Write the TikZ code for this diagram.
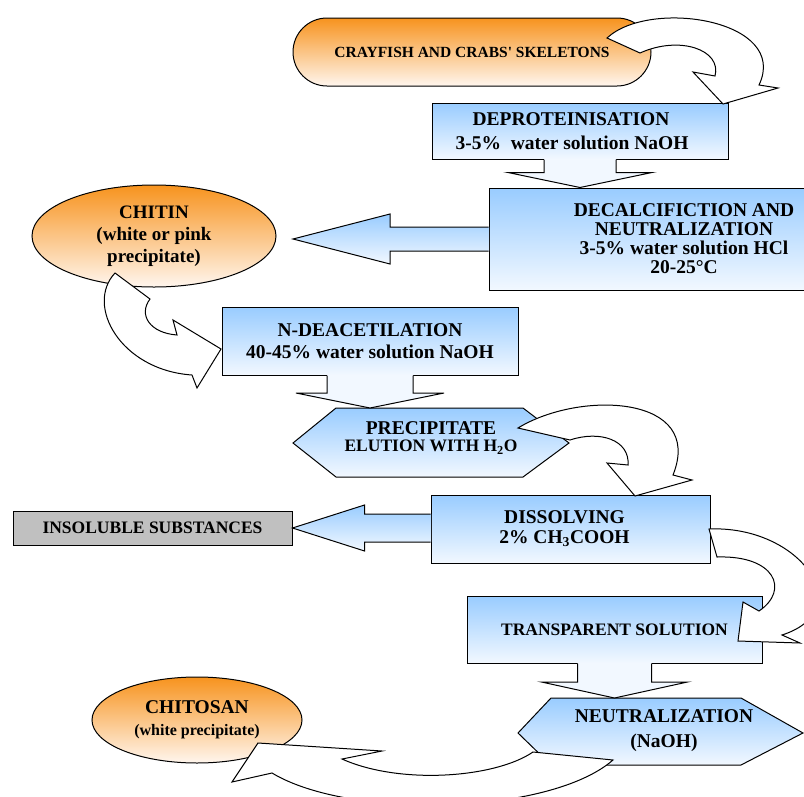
\documentclass[tikz,border=0pt]{standalone}
\usepackage{fontspec}
\setmainfont{Liberation Serif}
\usetikzlibrary{calc,shapes.geometric}

\definecolor{boxtop}{RGB}{153,204,255}
\definecolor{boxbot}{RGB}{242,248,255}
\definecolor{orgtop}{RGB}{247,147,30}
\definecolor{orgbot}{RGB}{255,246,238}
\definecolor{greybox}{RGB}{192,192,192}

% fleche droite vers le bas : depart, pointe, demi-tige, demi-tete, longueur tete
\newcommand{\blockdown}[5]{%
	\path[fill=boxbot] let \p1=(#1), \p2=(#2) in
		(\x2-#3,\y1+0.7pt) -- (\x2-#3,\y2+#5) -- (\x2-#4,\y2+#5) -- (\x2,\y2)
		-- (\x2+#4,\y2+#5) -- (\x2+#3,\y2+#5) -- (\x2+#3,\y1+0.7pt) -- cycle;
	\draw[line width=1pt] let \p1=(#1), \p2=(#2) in
		(\x2-#3,\y1) -- (\x2-#3,\y2+#5) -- (\x2-#4,\y2+#5) -- (\x2,\y2)
		-- (\x2+#4,\y2+#5) -- (\x2+#3,\y2+#5) -- (\x2+#3,\y1);
}
% fleche droite vers la gauche
\newcommand{\blockleft}[5]{%
	\path[top color=boxtop, bottom color=boxbot] let \p1=(#1), \p2=(#2) in
		(\x1+0.7pt,\y2+#3) -- (\x2+#5,\y2+#3) -- (\x2+#5,\y2+#4) -- (\x2,\y2)
		-- (\x2+#5,\y2-#4) -- (\x2+#5,\y2-#3) -- (\x1+0.7pt,\y2-#3) -- cycle;
	\draw[line width=1pt] let \p1=(#1), \p2=(#2) in
		(\x1,\y2+#3) -- (\x2+#5,\y2+#3) -- (\x2+#5,\y2+#4) -- (\x2,\y2)
		-- (\x2+#5,\y2-#4) -- (\x2+#5,\y2-#3) -- (\x1,\y2-#3);
}

\begin{document}
\begin{tikzpicture}[
		x=1pt, y=-1pt,
		every node/.style={
				font=\bfseries\fontsize{19.5}{22}\selectfont,
				align=center,
				inner sep=0pt,
				line width=1pt
			},
		bluebox/.style={draw, rectangle, top color=boxtop, bottom color=boxbot},
		orangebox/.style={draw, top color=orgtop, bottom color=orgbot},
		hexbox/.style={draw, line width=1pt, top color=boxtop, bottom color=boxbot},
		curved/.style={draw, fill=white, line width=1pt}
	]
	\useasboundingbox (0,0) rectangle (804,796);
	\clip (0,0) rectangle (804,796);

	\node[orangebox, rounded corners=34pt, minimum width=358pt, minimum height=68pt,
		font=\bfseries\fontsize{15.5}{18}\selectfont] (crab) at (472,52)
	{CRAYFISH AND CRABS\textquotesingle{} SKELETONS};
	\node[bluebox, minimum width=296pt, minimum height=56pt] (depro) at (580,131)
	{DEPROTEINISATION\hspace*{18pt}\\[2pt]3-5\%\ \ water solution NaOH\hspace*{16pt}};
	\draw[curved] (607,38) .. controls (650,-2) and (790,20) .. (759,85) -- (778,88) -- (723,104)
	-- (693,72) -- (715,76) .. controls (722,50) and (680,35) .. (640,53) -- cycle;

	\node[bluebox, minimum width=390pt, minimum height=102pt,
		font=\bfseries\fontsize{19.5}{19}\selectfont] (decalc) at (684,239)
	{DECALCIFICTION AND\\NEUTRALIZATION\\3-5\% water solution HCl\\20-25°C};
	\blockdown{depro.south}{depro.south |- decalc.north}{36pt}{72pt}{15pt}

	\node[orangebox, ellipse, minimum width=244pt, minimum height=102pt,
		font=\bfseries\fontsize{19}{22}\selectfont] (chitin) at (154,236)
	{CHITIN\\(white or pink\\precipitate)};
	\coordinate (chitin tip) at (293,239);
	\blockleft{decalc.west}{chitin tip}{12pt}{25pt}{97pt}

	\node[bluebox, minimum width=296pt, minimum height=68pt] (ndeac) at (370,341)
	{N-DEACETILATION\\40-45\% water solution NaOH};
	\draw[curved] (115,273) .. controls (85,305) and (120,370) .. (192,375) -- (197,388) -- (221,349)
	-- (173,320) -- (177,335) .. controls (150,333) and (138,315) .. (150,299) -- cycle;

	\path[hexbox] (293,443) -- (336,408) coordinate (prec nw) -- (523,408) -- (569,443)
	-- (523,477) -- (336,477) -- cycle;
	\node[font=\bfseries\fontsize{19.5}{17}\selectfont] (prec) at (431,438)
	{PRECIPITATE\\{\fontsize{17.5}{17}\selectfont ELUTION WITH H\textsubscript{2}O}};
	\blockdown{ndeac.south}{ndeac.south |- prec nw}{43pt}{74pt}{15pt}

	\node[bluebox, minimum width=279pt, minimum height=68pt,
		font=\bfseries\fontsize{19.5}{20}\selectfont] (diss) at (570.5,529)
	{DISSOLVING\hspace*{12pt}\\2\% CH\textsubscript{3}COOH\hspace*{12pt}};
	\draw[curved] (518,428) .. controls (580,390) and (705,395) .. (673,475) -- (692,480) -- (635,496)
	-- (607,463) -- (628,465) .. controls (630,440) and (600,430) .. (570,440) -- cycle;

	\node[draw, fill=greybox, minimum width=279pt, minimum height=34pt,
		font=\bfseries\fontsize{17.5}{20}\selectfont] (insol) at (152.5,528) {INSOLUBLE SUBSTANCES};
	\blockleft{diss.west}{insol.east}{14pt}{23pt}{72pt}

	\node[bluebox, minimum width=295pt, minimum height=67pt,
		font=\bfseries\fontsize{17.5}{20}\selectfont] (transp) at (614.5,629.5) {TRANSPARENT SOLUTION};
	\draw[curved] (709,529) .. controls (800,525) and (860,610) .. (782,635) -- (800,643) -- (738,641)
	-- (743,602) -- (759,611) .. controls (790,590) and (775,555) .. (717,557) -- cycle;

	\path[hexbox] (518,733) -- (551,698) coordinate (neut nw) -- (741,698) -- (803,733)
	-- (741,765) -- (551,765) -- cycle;
	\node (neut) at (664,731) {NEUTRALIZATION\\[3pt](NaOH)};
	\blockdown{transp.south}{transp.south |- neut nw}{37pt}{73pt}{16pt}

	\node[orangebox, ellipse, minimum width=210pt, minimum height=86pt] (chitosan) at (197,720)
	{CHITOSAN\\{\fontsize{16}{18}\selectfont (white precipitate)}};
	\draw[curved] (613,760) .. controls (550,815) and (350,820) .. (272,773) -- (232,782) -- (258,743)
	-- (382,751) -- (342,759) .. controls (400,785) and (495,778) .. (533,752) -- cycle;
\end{tikzpicture}
\end{document}
